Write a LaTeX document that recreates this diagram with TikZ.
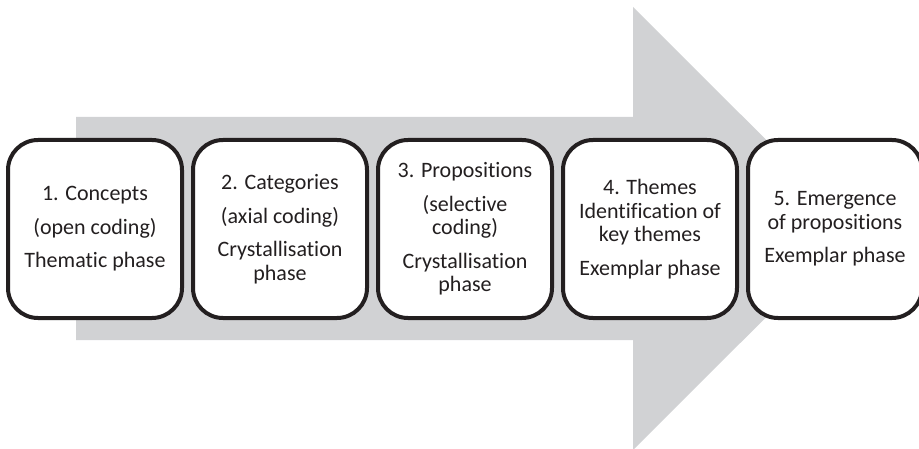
\documentclass[tikz,border=0pt]{standalone}
\usepackage{fontspec}
\setmainfont[Ligatures={NoCommon,NoRare}]{Carlito}
\usetikzlibrary{positioning}

\definecolor{arrowgray}{RGB}{209,210,212}
\definecolor{inkgray}{RGB}{35,31,32}

\tikzset{
  phasebox/.style={draw=inkgray, line width=4pt, fill=white, rounded corners=30pt,
    minimum width=174pt, minimum height=178pt, inner sep=0pt, align=center,
    text=inkgray, font=\fontsize{22}{23.5}\selectfont}
}

\begin{document}
\begin{tikzpicture}[x=1pt,y=1pt]
\useasboundingbox (0,0) rectangle (919,448);

% big grey arrow behind the boxes
\fill[arrowgray] (76,108) -- (76,331) -- (633,331) -- (633,441)
  -- (855,219.5) -- (633,-2) -- (633,108) -- cycle;

\node[phasebox] (concepts) at (95,219)
  {1. Concepts\\[10pt] (open coding)\\[10pt] Thematic phase};
\node[phasebox, right=7pt of concepts] (categories)
  {2. Categories\\[10pt] (axial coding)\\[10pt] Crystallisation\\ phase};
\node[phasebox, right=7pt of categories] (propositions)
  {3. Propositions\\[10pt] (selective\\ coding)\\[10pt] Crystallisation\\ phase};
\node[phasebox, right=7pt of propositions] (themes)
  {4. Themes\\ Identification of\\ key themes\\[10pt] Exemplar phase};
\node[phasebox, right=7pt of themes] (emergence)
  {5. Emergence\\ of propositions\\[10pt] Exemplar phase};

\end{tikzpicture}
\end{document}
